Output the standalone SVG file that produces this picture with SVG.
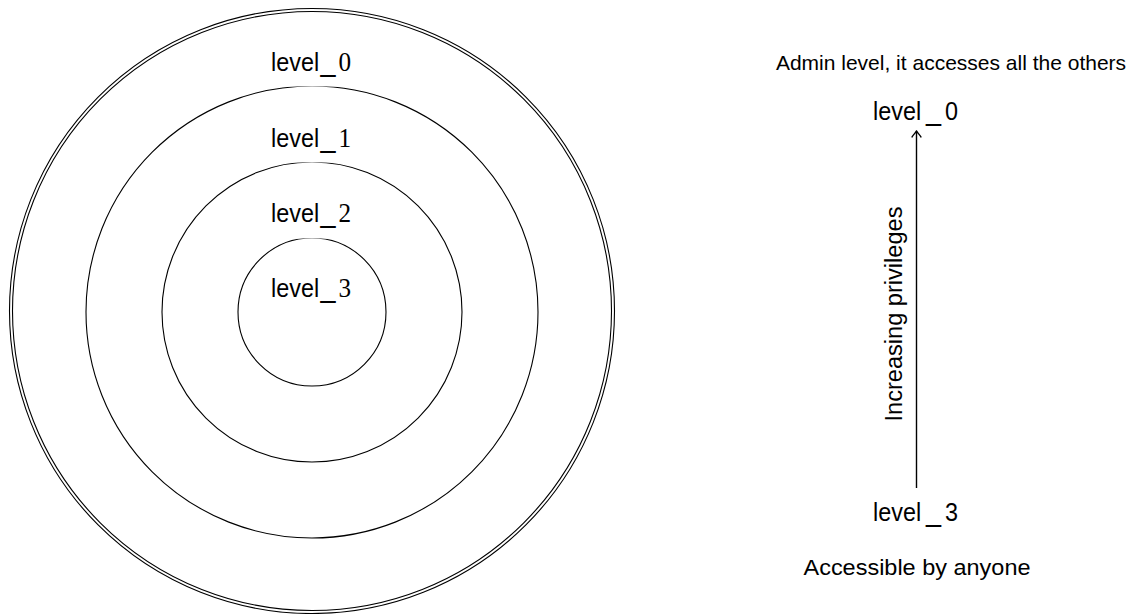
<svg xmlns="http://www.w3.org/2000/svg" width="1132" height="614" viewBox="0 0 1132 614">
  <style>
    .ring { fill: none; stroke: #000; stroke-width: 1.1; }
    .lbl { font-family: "Liberation Sans", Arial, sans-serif; font-size: 26px; fill: #000; }
    .us { font-size: 30px; }
    .num { font-family: "Liberation Serif", "Times New Roman", serif; font-size: 28px; }
    .note { font-family: "Liberation Sans", Arial, sans-serif; font-size: 22px; fill: #000; }
    .mask { fill: #fff; stroke: none; }
  </style>
  <defs>
    <marker id="tip" markerUnits="userSpaceOnUse" markerWidth="14" markerHeight="14" refX="0" refY="0" viewBox="-8 -7 10 14" orient="auto" overflow="visible">
      <path d="M-6,-4.5 C-3.2,-2.4 -1.1,-0.8 0,0 C-1.1,0.8 -3.2,2.4 -6,4.5" fill="none" stroke="#000" stroke-width="1.3" stroke-linecap="round"/>
    </marker>
  </defs>

  <rect width="1132" height="614" fill="#fff"/>

  <!-- concentric privilege rings -->
  <g id="rings">
    <circle class="ring" cx="312" cy="311" r="302.5"/>
    <circle class="ring" cx="312" cy="311" r="299.5"/>
    <circle class="ring" cx="312" cy="312" r="226"/>
    <circle class="ring" cx="312" cy="312" r="150"/>
    <circle class="ring" cx="312" cy="312" r="74"/>
  </g>

  <!-- ring labels (white backing cuts the ring below) -->
  <g id="ring-level0">
    <rect class="mask" x="268" y="46" width="90" height="40.5"/>
    <text class="lbl" transform="translate(271,71) scale(0.9,1)"><tspan x="0">level</tspan><tspan class="us" x="55">_</tspan><tspan class="num" x="75">0</tspan></text>
  </g>
  <g id="ring-level1">
    <rect class="mask" x="268" y="122" width="90" height="40.5"/>
    <text class="lbl" transform="translate(271,146.5) scale(0.9,1)"><tspan x="0">level</tspan><tspan class="us" x="55">_</tspan><tspan class="num" x="75">1</tspan></text>
  </g>
  <g id="ring-level2">
    <rect class="mask" x="268" y="197" width="90" height="41.5"/>
    <text class="lbl" transform="translate(271,222) scale(0.9,1)"><tspan x="0">level</tspan><tspan class="us" x="55">_</tspan><tspan class="num" x="75">2</tspan></text>
  </g>
  <g id="ring-level3">
    <text class="lbl" transform="translate(271,297) scale(0.9,1)"><tspan x="0">level</tspan><tspan class="us" x="55">_</tspan><tspan class="num" x="75">3</tspan></text>
  </g>

  <!-- privilege scale -->
  <g id="connectors">
    <line x1="916.5" y1="488" x2="916.5" y2="131" stroke="#000" stroke-width="1.4" marker-end="url(#tip)"/>
  </g>

  <g id="admin-note">
    <text class="note" style="font-size:21px" x="951" y="70" text-anchor="middle">Admin level, it accesses all the others</text>
  </g>
  <g id="scale-top">
    <text class="lbl" transform="translate(873,120) scale(0.9,1)"><tspan x="0">level</tspan><tspan class="us" x="59">_</tspan><tspan x="80">0</tspan></text>
  </g>
  <g id="scale-label">
    <text class="note" style="font-size:23px" transform="translate(901.5,314) rotate(-90)" text-anchor="middle" textLength="215" lengthAdjust="spacingAndGlyphs">Increasing privileges</text>
  </g>
  <g id="scale-bottom">
    <text class="lbl" transform="translate(873,521) scale(0.9,1)"><tspan x="0">level</tspan><tspan class="us" x="59">_</tspan><tspan x="80">3</tspan></text>
  </g>
  <g id="public-note">
    <text class="note" x="917" y="575" text-anchor="middle" textLength="227" lengthAdjust="spacingAndGlyphs">Accessible by anyone</text>
  </g>
</svg>
